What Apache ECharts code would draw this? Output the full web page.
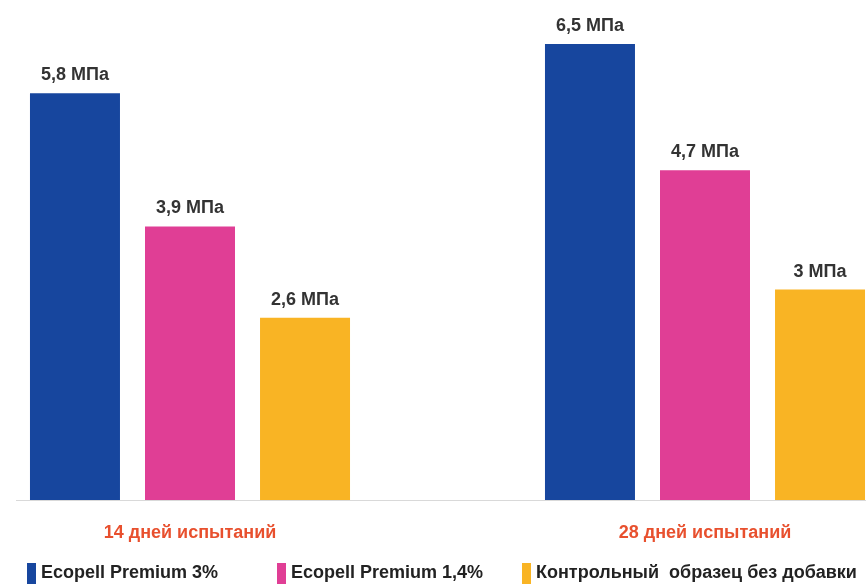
<!DOCTYPE html>
<html>
<head>
<meta charset="utf-8">
<script src="https://cdn.jsdelivr.net/npm/echarts@6/dist/echarts.min.js"></script>
<style>
  html, body { margin: 0; padding: 0; background: #fff; }
  #chart { width: 866px; height: 584px; }
</style>
</head>
<body>
<div id="chart"></div>
<script>
// Данные
const categories = ['14 дней испытаний', '28 дней испытаний'];
const seriesNames = ['Ecopell Premium 3%', 'Ecopell Premium 1,4%', 'Контрольный  образец без добавки'];
const premium3 = [5.8, 6.5];
const premium14 = [3.9, 4.7];
const control = [2.6, 3];

const COLORS = ['#17469e', '#e03e95', '#f9b424'];
const FONT = '"Liberation Sans", Arial, sans-serif';

const chart = echarts.init(document.getElementById('chart'));

function fmt(v) {
    return String(v).replace('.', ',') + ' МПа';
}

function makeSeries(name, data, color) {
    return {
        name: name,
        type: 'bar',
        data: data,
        barWidth: 90,
        barGap: '27.8%',
        clip: false,
        itemStyle: { color: color },
        label: {
            show: true,
            position: 'top',
            distance: 9,
            formatter: p => fmt(p.value),
            color: '#333',
            fontFamily: FONT,
            fontWeight: 'bold',
            fontSize: 18
        }
    };
}

function makeLegend(name, left) {
    return {
        data: [name],
        left: left,
        top: 563,
        padding: 0,
        icon: 'rect',
        itemWidth: 9,
        itemHeight: 21,
        itemGap: 0,
        textStyle: {
            color: '#222',
            fontFamily: FONT,
            fontWeight: 'bold',
            fontSize: 18,
            padding: [6, 0, 0, 0]
        }
    };
}

chart.setOption({
    animation: false,
    backgroundColor: '#fff',
    // boundaryGap: false -> категории стоят на краях сетки (190 и 705 px)
    grid: { left: 190, right: 161, top: 9, bottom: 84 },
    xAxis: {
        type: 'category',
        data: categories,
        boundaryGap: false,
        axisLine: { show: false },
        axisTick: { show: false },
        axisLabel: {
            margin: 24,
            color: '#e8502e',
            fontFamily: FONT,
            fontWeight: 'bold',
            fontSize: 18
        }
    },
    yAxis: {
        type: 'value',
        min: 0,
        max: 7,
        show: false,
        splitLine: { show: false }
    },
    legend: [
        makeLegend(seriesNames[0], 27),
        makeLegend(seriesNames[1], 277),
        makeLegend(seriesNames[2], 522)
    ],
    graphic: [{
        type: 'line',
        shape: { x1: 16, y1: 500.5, x2: 866, y2: 500.5 },
        style: { stroke: '#d9d9d9', lineWidth: 1 },
        z: 0
    }],
    series: [
        makeSeries(seriesNames[0], premium3, COLORS[0]),
        makeSeries(seriesNames[1], premium14, COLORS[1]),
        makeSeries(seriesNames[2], control, COLORS[2])
    ]
});
</script>
</body>
</html>
